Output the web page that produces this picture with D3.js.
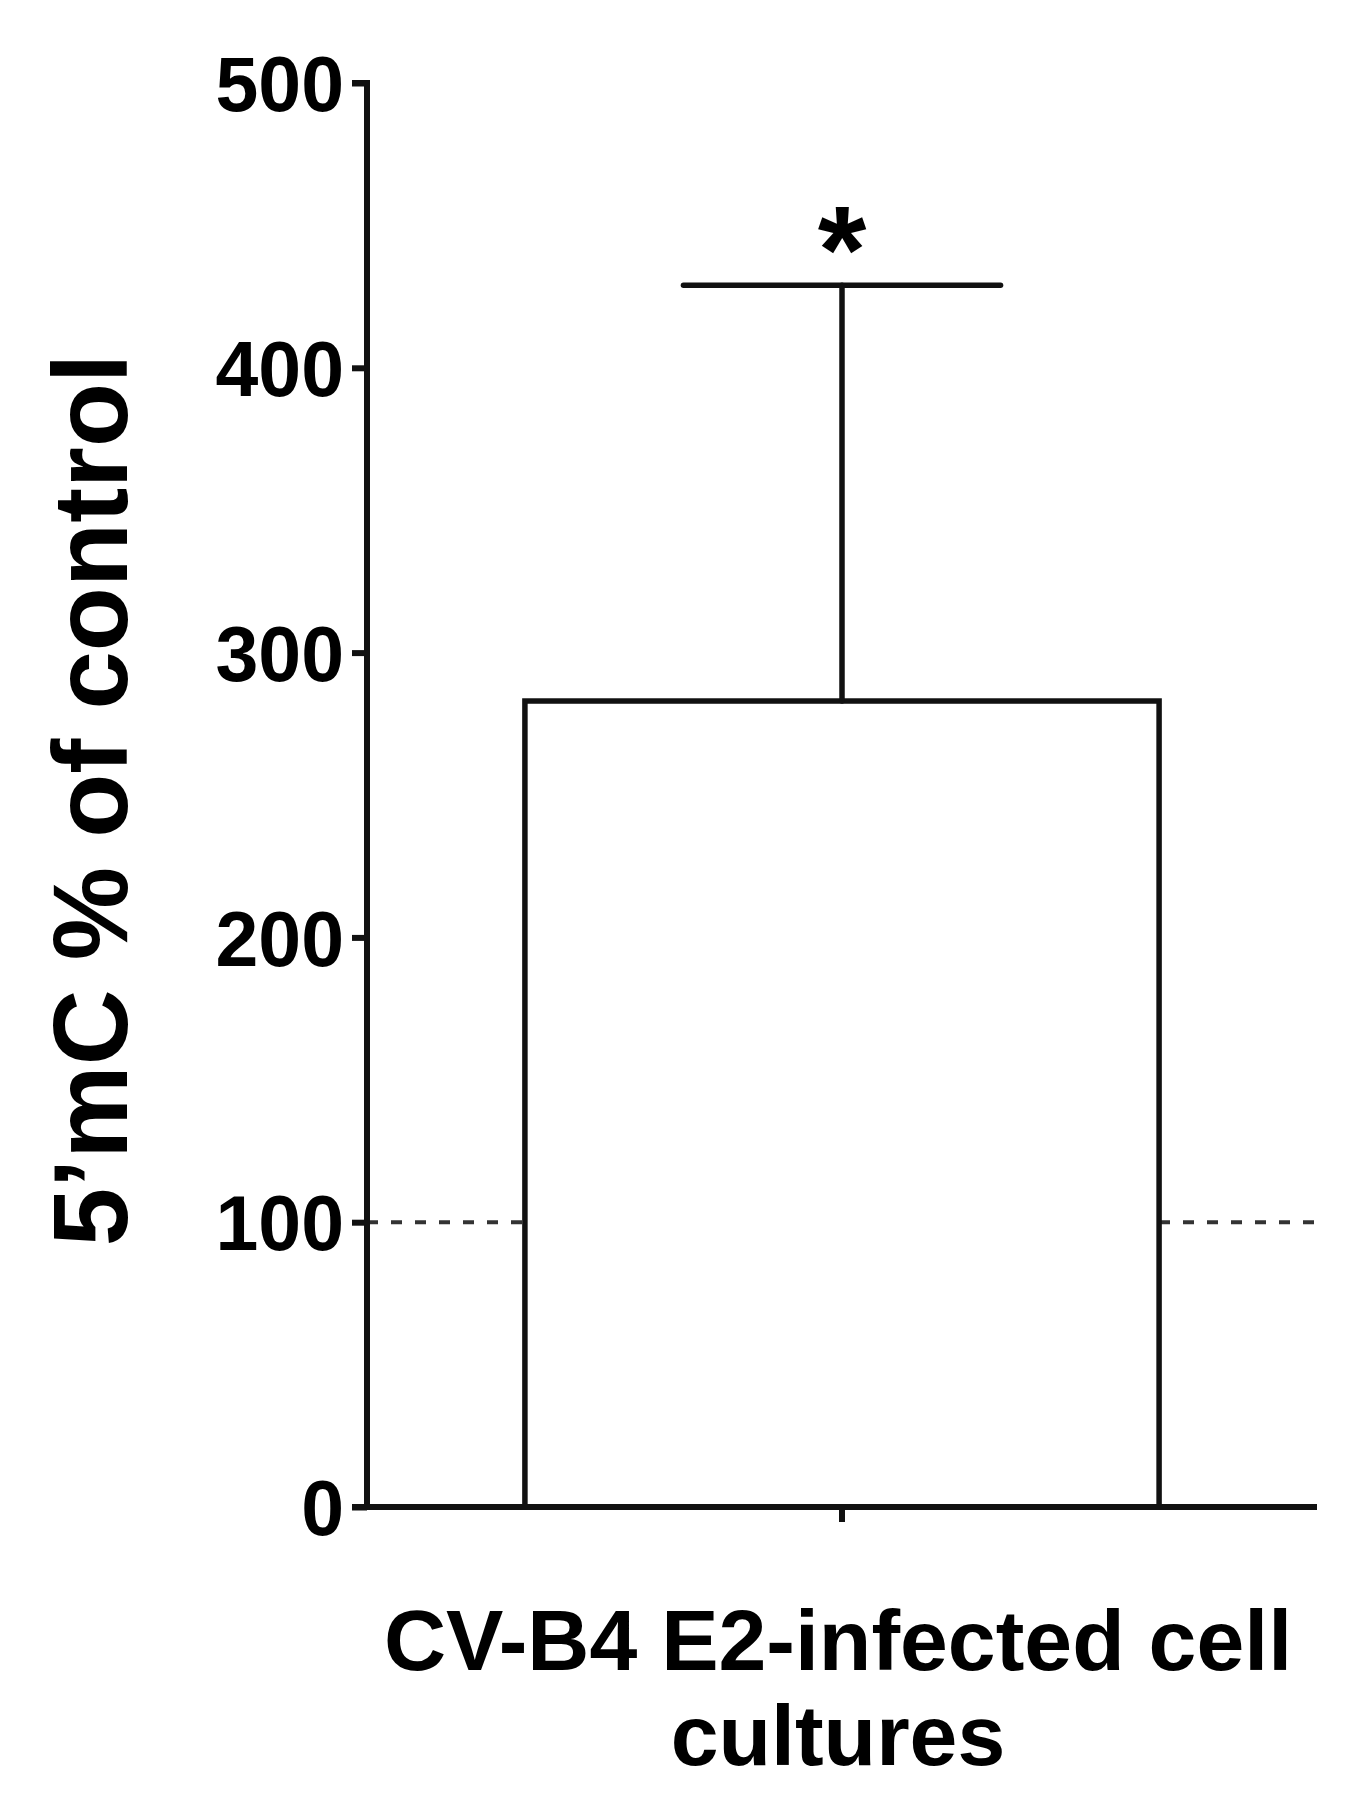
<!DOCTYPE html>
<html>
<head>
<meta charset="utf-8">
<script src="https://cdn.jsdelivr.net/npm/d3@7"></script>
<style>
  html, body { margin: 0; padding: 0; background: #fff; }
  svg { display: block; }
  text { font-family: "Liberation Sans", Arial, sans-serif; font-weight: bold; fill: #000; }
</style>
</head>
<body>
<svg id="chart" width="1361" height="1810"></svg>
<script>
// ---- data ----
const categories = ["CV-B4 E2-infected cell cultures"];
const categoryLines = [["CV-B4 E2-infected cell", "cultures"]];
const meanValues = [283];
const errorValues = [146];
const significance = ["*"];
const yTicks = [0, 100, 200, 300, 400, 500];
const referenceLine = [100];
const yTitle = "5\u2019mC % of control";

// ---- layout ----
const svg = d3.select("#chart");
const x0 = 367, x1 = 1317, yTop = 83, yBottom = 1507;

const x = d3.scaleBand().domain(categories).range([x0, x1]).paddingInner(0).paddingOuter(0.249);
const y = d3.scaleLinear().domain([0, 500]).range([yBottom, yTop]);

const stroke = "#111";

// reference dashed line (drawn across; bar covers middle)
svg.append("g").selectAll("line").data(referenceLine).join("line")
  .attr("x1", x0).attr("x2", x1 - 3)
  .attr("y1", d => y(d)).attr("y2", d => y(d))
  .attr("stroke", "#333").attr("stroke-width", 4)
  .attr("stroke-dasharray", "11,13");

// bars
const bars = svg.append("g");
bars.selectAll("rect").data(categories).join("rect")
  .attr("x", d => x(d))
  .attr("y", (d, i) => y(meanValues[i]))
  .attr("width", x.bandwidth())
  .attr("height", (d, i) => y(0) - y(meanValues[i]))
  .attr("fill", "#fff")
  .attr("stroke", stroke).attr("stroke-width", 5.5);

// error bars
const eb = svg.append("g").attr("stroke", stroke).attr("stroke-width", 5.5).attr("stroke-linecap", "round");
categories.forEach((c, i) => {
  const cx = x(c) + x.bandwidth() / 2;
  eb.append("line").attr("x1", cx).attr("x2", cx)
    .attr("y1", y(meanValues[i])).attr("y2", y(meanValues[i] + errorValues[i]));
  eb.append("line").attr("x1", cx - x.bandwidth() / 4).attr("x2", cx + x.bandwidth() / 4)
    .attr("y1", y(meanValues[i] + errorValues[i])).attr("y2", y(meanValues[i] + errorValues[i]));
  svg.append("text").attr("x", cx).attr("y", y(meanValues[i] + errorValues[i]) + 8)
    .attr("text-anchor", "middle").attr("font-size", 125).text(significance[i]);
});

// y axis
const yAxis = d3.axisLeft(y).tickValues(yTicks).tickSize(15).tickPadding(8).tickFormat(d3.format("d"));
const gy = svg.append("g").attr("transform", `translate(${x0},0)`).call(yAxis);
gy.select(".domain").attr("stroke", stroke).attr("stroke-width", 6).attr("d", `M-15,${yTop}H0V${yBottom}`);
gy.selectAll(".tick line").attr("stroke", stroke).attr("stroke-width", 6);
gy.selectAll(".tick text").attr("font-size", 77).attr("font-family", "'Liberation Sans', Arial, sans-serif")
  .attr("font-weight", "bold").attr("fill", "#000").attr("dy", "0.36em");

// x axis
const xAxis = d3.axisBottom(x).tickSize(15).tickFormat("");
const gx = svg.append("g").attr("transform", `translate(0,${yBottom})`).call(xAxis);
gx.select(".domain").attr("stroke", stroke).attr("stroke-width", 6).attr("d", `M${x0 - 15},0H${x1}`);
gx.selectAll(".tick line").attr("stroke", stroke).attr("stroke-width", 6);

// x labels
categories.forEach((c, i) => {
  const cx = x(c) + x.bandwidth() / 2;
  const t = svg.append("text").attr("text-anchor", "middle").attr("font-size", 86);
  categoryLines[i].forEach((ln, j) => {
    t.append("tspan").attr("x", cx - 4).attr("y", 1670 + j * 95).text(ln);
  });
});

// y title
svg.append("text")
  .attr("transform", `translate(127,800) rotate(-90)`)
  .attr("text-anchor", "middle").attr("font-size", 105)
  .text(yTitle);
</script>
</body>
</html>
